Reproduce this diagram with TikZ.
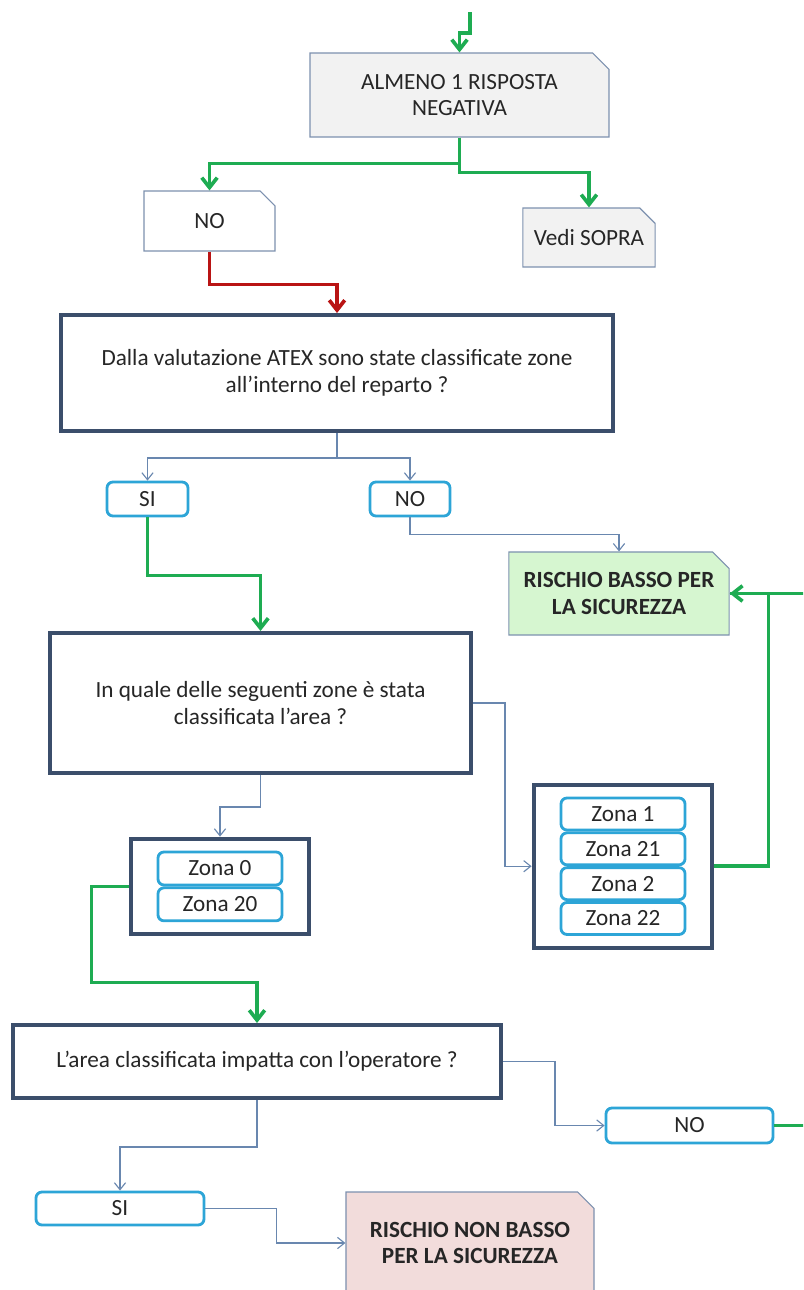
\documentclass[tikz,border=0pt]{standalone}
\usepackage{fontspec}
\setmainfont{Carlito}
\usetikzlibrary{arrows.meta,shapes.misc,fit,positioning}
\definecolor{navybox}{RGB}{59,78,107}
\definecolor{cyanbox}{RGB}{45,165,215}
\definecolor{edgeblue}{RGB}{125,145,175}
\definecolor{thinblue}{RGB}{105,135,175}
\definecolor{flowgreen}{RGB}{30,172,82}
\definecolor{flowred}{RGB}{185,20,20}
\definecolor{notegray}{RGB}{242,242,242}
\definecolor{notegreen}{RGB}{214,246,208}
\definecolor{notepink}{RGB}{242,220,219}
\begin{document}
\begin{tikzpicture}[
        x=0.025cm, y=-0.025cm,
        every node/.style={font=\fontsize{16.5}{19}\selectfont, text=black!85},
        % Box Styles
        basebox/.style={
            rectangle,
            fill=white,
            align=center,
            inner sep=2pt
        },
        notebox/.style={
            basebox,
            chamfered rectangle,
            chamfered rectangle corners=north east,
            chamfered rectangle xsep=0.3cm,
            draw=edgeblue,
            line width=0.8pt
        },
        qbox/.style={
            basebox,
            draw=navybox,
            line width=2.8pt
        },
        ansbox/.style={
            basebox,
            draw=cyanbox,
            line width=2pt,
            rounded corners=0.15cm
        },
        zonebox/.style={
            ansbox,
            minimum width=3.1cm,
            minimum height=0.8cm
        },
        groupbox/.style={
            rectangle,
            draw=navybox,
            line width=2.8pt,
            inner xsep=0.65cm,
            inner ysep=0.3cm
        },
        % Connector Styles
        garrow/.style={-{Straight Barb[length=7pt,width=11pt]}, line width=2.6pt, draw=flowgreen},
        gline/.style={line width=2.6pt, draw=flowgreen},
        rarrow/.style={-{Straight Barb[length=7pt,width=11pt]}, line width=2.6pt, draw=flowred},
        tarrow/.style={-{Straight Barb[length=5pt,width=8pt]}, line width=0.8pt, draw=thinblue}
    ]
    \useasboundingbox (0,0) rectangle (803,1290);
    \clip (0,0) rectangle (803,1290);

    % --- Top part ---
    \coordinate (start) at (470,12);
    \node[notebox, fill=notegray, minimum width=7.475cm, minimum height=2.1cm] (almeno) at (459.5,95) {ALMENO 1 RISPOSTA\\NEGATIVA};
    \node[notebox, minimum width=3.275cm, minimum height=1.5cm] (nobox) at (209.5,221) {NO};
    \node[notebox, fill=notegray, inner xsep=0pt, minimum width=3.25cm, minimum height=1.475cm] (vedi) at (589,237.5) {Vedi SOPRA};

    % --- ATEX question ---
    \node[qbox, minimum width=13.8cm, minimum height=2.9cm] (atex) at (337,373) {Dalla valutazione ATEX sono state classificate zone\\all'interno del reparto ?};
    \node[ansbox, minimum width=2.025cm, minimum height=0.85cm] (si1) at (147.5,499) {SI};
    \node[ansbox, minimum width=2cm, minimum height=0.85cm] (no1) at (410,499) {NO};
    \node[notebox, fill=notegreen, minimum width=5.4cm, minimum height=2.075cm, font=\fontsize{16.5}{19}\selectfont\bfseries] (basso) at (619,593.5) {RISCHIO BASSO PER\\LA SICUREZZA};

    % --- Zone question ---
    \node[qbox, minimum width=10.525cm, minimum height=3.5cm] (zone) at (260.5,703) {In quale delle seguenti zone è stata\\classificata l'area ?};
    \node[zonebox, minimum height=0.825cm] (z0) at (220,868.5) {Zona 0};
    \node[zonebox, minimum height=0.825cm, below=0pt of z0] (z20) {Zona 20};
    \node[groupbox, fit=(z0)(z20)] (grpA) {};
    \node[zonebox] (z1) at (623,814) {Zona 1};
    \node[zonebox, below=0pt of z1] (z21) {Zona 21};
    \node[zonebox, below=0pt of z21] (z2) {Zona 2};
    \node[zonebox, below=0pt of z2] (z22) {Zona 22};
    \node[groupbox, fit=(z1)(z22)] (grpB) {};

    % --- Operator question ---
    \node[qbox, minimum width=12.2cm, minimum height=1.825cm] (impatta) at (257,1061.5) {L'area classificata impatta con l'operatore ?};
    \node[ansbox, minimum width=4.175cm, minimum height=0.875cm] (no3) at (689.5,1125.5) {NO};
    \node[ansbox, minimum width=4.2cm, minimum height=0.825cm] (si3) at (120,1208.5) {SI};
    \node[notebox, fill=notepink, minimum width=6.2cm, minimum height=2.55cm, font=\fontsize{16.5}{19}\selectfont\bfseries] (nonbasso) at (470,1243) {RISCHIO NON BASSO\\PER LA SICUREZZA};

    % --- Paths & Connections ---
    \draw[garrow] (start) -- (470,33) -| (almeno.north);
    \draw[garrow] (almeno.south) -- ++(0,26) -| (nobox.north);
    \draw[garrow] (almeno.south) -- ++(0,35) -| (vedi.north);
    \draw[rarrow] (nobox.south) -- ++(0,33) -| (atex.north);

    \draw[tarrow] (atex.south) -- ++(0,25) -| (si1.north);
    \draw[tarrow] (atex.south) -- ++(0,25) -| (no1.north);
    \draw[tarrow] (no1.south) -- ++(0,17) -| (basso.north);
    \draw[garrow] (si1.south) -- ++(0,58) -| (zone.north);

    \draw[tarrow] (zone.east) -- ++(32,0) |- (grpB.west);
    \draw[tarrow] (zone.south) -- ++(0,32) -| (grpA.north);
    \draw[garrow] (grpB.east) -- ++(54,0) |- (basso.east);
    \draw[garrow] (grpA.west) -- ++(-37,0) -- ++(0,96) -| (impatta.north);

    \draw[tarrow] (impatta.east) -- ++(52,0) |- (no3.west);
    \draw[gline] (no3.east) -- ++(60,0) |- (basso.east);
    \draw[tarrow] (impatta.south) -- ++(0,47) -| (si3.north);
    \draw[tarrow] (si3.east) -- ++(71,0) |- (nonbasso.west);
\end{tikzpicture}
\end{document}
